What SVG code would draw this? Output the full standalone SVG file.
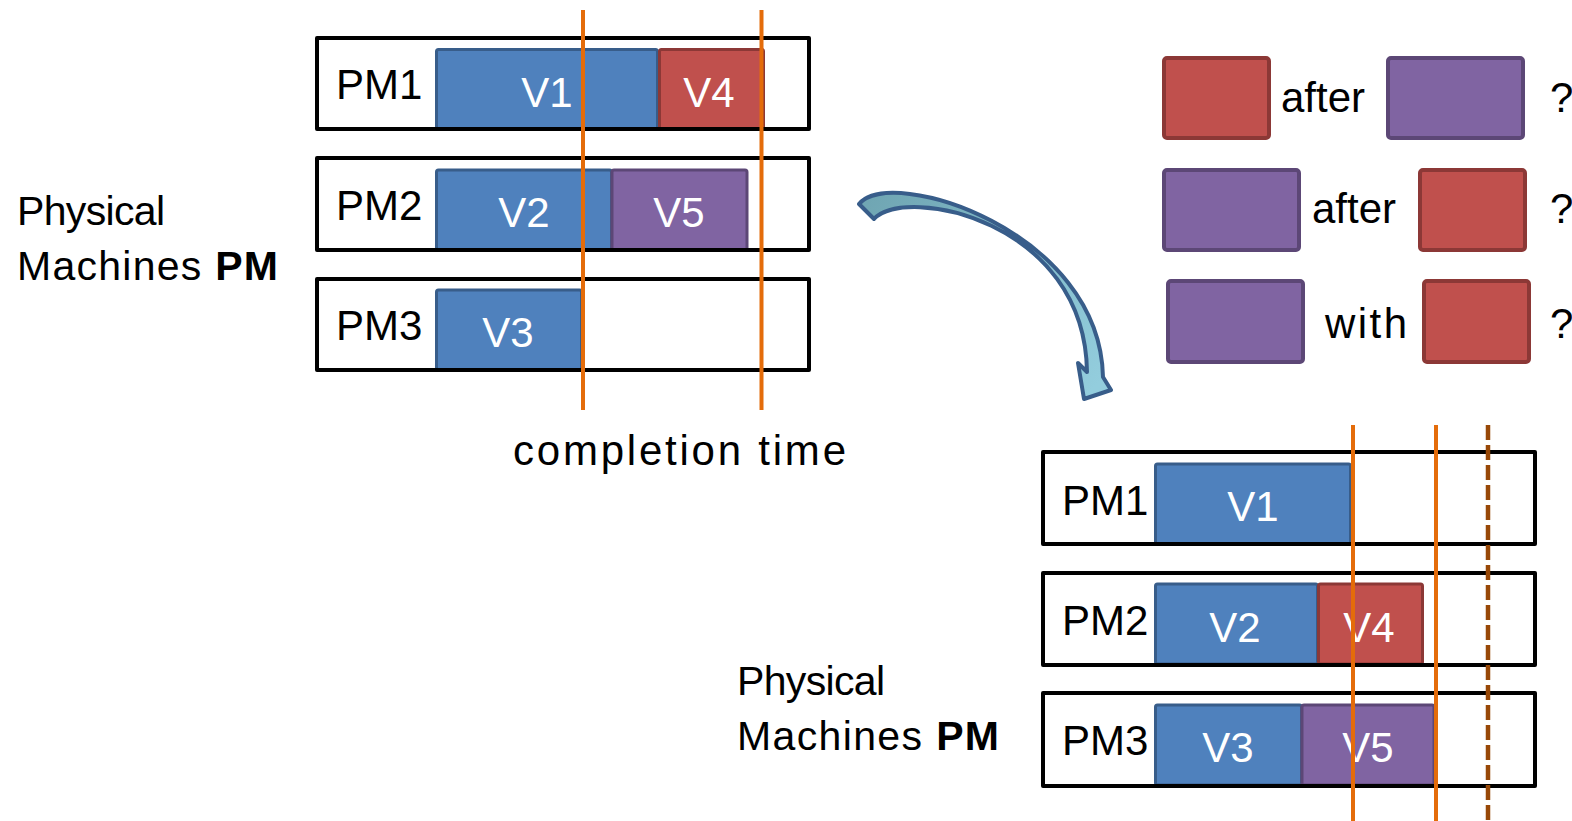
<svg xmlns="http://www.w3.org/2000/svg" width="1572" height="821" viewBox="0 0 1572 821">
<defs>
<style>
.pm{fill:#fff;stroke:none}
.pmb{fill:none;stroke:#000;stroke-width:4;stroke-linejoin:round}
.vb{fill:#4F81BD;stroke:#385D8A;stroke-width:3}
.vr{fill:#C0504D;stroke:#8C3836;stroke-width:3}
.vp{fill:#8064A2;stroke:#5C4776;stroke-width:3}
.lr{fill:#C0504D;stroke:#8C3836;stroke-width:4}
.lp{fill:#8064A2;stroke:#5C4776;stroke-width:4}
.t{font-family:"Liberation Sans",Arial,sans-serif;font-size:42px;fill:#000}
.lb{font-family:"Liberation Sans",Arial,sans-serif;font-size:41px;fill:#000}
.w{font-family:"Liberation Sans",Arial,sans-serif;font-size:42px;fill:#fff;text-anchor:middle}
.ol{stroke:#E46C0A;stroke-width:4;fill:none}
.dl{stroke:#984807;stroke-width:4.5;fill:none;stroke-dasharray:15 5}
</style>
<linearGradient id="ag" gradientUnits="userSpaceOnUse" x1="860" y1="200" x2="1100" y2="380">
<stop offset="0" stop-color="#6FA5B2"/>
<stop offset="1" stop-color="#93CDDD"/>
</linearGradient>
</defs>
<rect width="1572" height="821" fill="#fff"/>

<g id="top-pm1">
<rect class="pm" x="317" y="38" width="492" height="91"/>
<rect class="vb" x="436.5" y="49.5" width="221" height="80" rx="2"/>
<rect class="vr" x="659.5" y="49.5" width="104" height="80" rx="2"/>
<rect class="pmb" x="317" y="38" width="492" height="91"/>
<text class="t" x="336" y="99">PM1</text>
<text class="w" x="547" y="107">V1</text>
<text class="w" x="709" y="107">V4</text>
</g>
<g id="top-pm2">
<rect class="pm" x="317" y="158" width="492" height="92"/>
<rect class="vb" x="436.5" y="170" width="175" height="80" rx="2"/>
<rect class="vp" x="612" y="170" width="135" height="80" rx="2"/>
<rect class="pmb" x="317" y="158" width="492" height="92"/>
<text class="t" x="336" y="220">PM2</text>
<text class="w" x="524" y="227">V2</text>
<text class="w" x="679" y="227">V5</text>
</g>
<g id="top-pm3">
<rect class="pm" x="317" y="279" width="492" height="91"/>
<rect class="vb" x="436.5" y="290" width="145" height="80" rx="2"/>
<rect class="pmb" x="317" y="279" width="492" height="91"/>
<text class="t" x="336" y="340">PM3</text>
<text class="w" x="508" y="347">V3</text>
</g>

<g id="top-label">
<text class="lb" x="17" y="225" textLength="148" lengthAdjust="spacing">Physical</text>
<text class="lb" x="17" y="280" textLength="261" lengthAdjust="spacing">Machines <tspan font-weight="bold">PM</tspan></text>
</g>
<g id="completion-label">
<text class="t" x="513" y="465" textLength="333" lengthAdjust="spacing">completion time</text>
</g>

<g id="top-lines">
<line class="ol" x1="583" y1="10" x2="583" y2="410"/>
<line class="ol" x1="761.5" y1="10" x2="761.5" y2="410"/>
</g>

<g id="legend">
<rect class="lr" x="1164" y="58" width="105" height="80" rx="3"/>
<text class="t" x="1281" y="112">after</text>
<rect class="lp" x="1388" y="58" width="135" height="80" rx="3"/>
<text class="t" x="1550" y="112">?</text>
<rect class="lp" x="1164" y="170" width="135" height="80" rx="3"/>
<text class="t" x="1312" y="223">after</text>
<rect class="lr" x="1420" y="170" width="105" height="80" rx="3"/>
<text class="t" x="1550" y="223">?</text>
<rect class="lp" x="1168" y="281" width="135" height="81" rx="3"/>
<text class="t" x="1325" y="338" textLength="82" lengthAdjust="spacing">with</text>
<rect class="lr" x="1424" y="281" width="105" height="81" rx="3"/>
<text class="t" x="1550" y="338">?</text>
</g>

<g id="connectors">
<path d="M859,204 L874,219 C905,185 1085,220 1087,372 L1078,363 L1084,399 L1111,390 L1103,377 C1100,230 890,165 859,204 Z" fill="url(#ag)" stroke="#385D8A" stroke-width="4" stroke-linejoin="round"/>
</g>

<g id="bot-pm1">
<rect class="pm" x="1043" y="452" width="492" height="92"/>
<rect class="vb" x="1155.5" y="464" width="195" height="80" rx="2"/>
<rect class="pmb" x="1043" y="452" width="492" height="92"/>
<text class="t" x="1062" y="515">PM1</text>
<text class="w" x="1253" y="521">V1</text>
</g>
<g id="bot-pm2">
<rect class="pm" x="1043" y="573" width="492" height="92"/>
<rect class="vb" x="1155.5" y="584" width="162" height="80" rx="2"/>
<rect class="vr" x="1318.5" y="584" width="104" height="80" rx="2"/>
<rect class="pmb" x="1043" y="573" width="492" height="92"/>
<text class="t" x="1062" y="635">PM2</text>
<text class="w" x="1235" y="642">V2</text>
<text class="w" x="1369" y="642">V4</text>
</g>
<g id="bot-pm3">
<rect class="pm" x="1043" y="693" width="492" height="93"/>
<rect class="vb" x="1155.5" y="705" width="146" height="80" rx="2"/>
<rect class="vp" x="1302" y="705" width="132" height="80" rx="2"/>
<rect class="pmb" x="1043" y="693" width="492" height="93"/>
<text class="t" x="1062" y="755">PM3</text>
<text class="w" x="1228" y="762">V3</text>
<text class="w" x="1368" y="762">V5</text>
</g>

<g id="bot-label">
<text class="lb" x="737" y="695" textLength="148" lengthAdjust="spacing">Physical</text>
<text class="lb" x="737" y="750" textLength="262" lengthAdjust="spacing">Machines <tspan font-weight="bold">PM</tspan></text>
</g>

<g id="bot-lines">
<line class="ol" x1="1353" y1="425" x2="1353" y2="821"/>
<line class="ol" x1="1436" y1="425" x2="1436" y2="821"/>
<line class="dl" x1="1488" y1="425" x2="1488" y2="821"/>
</g>
</svg>
